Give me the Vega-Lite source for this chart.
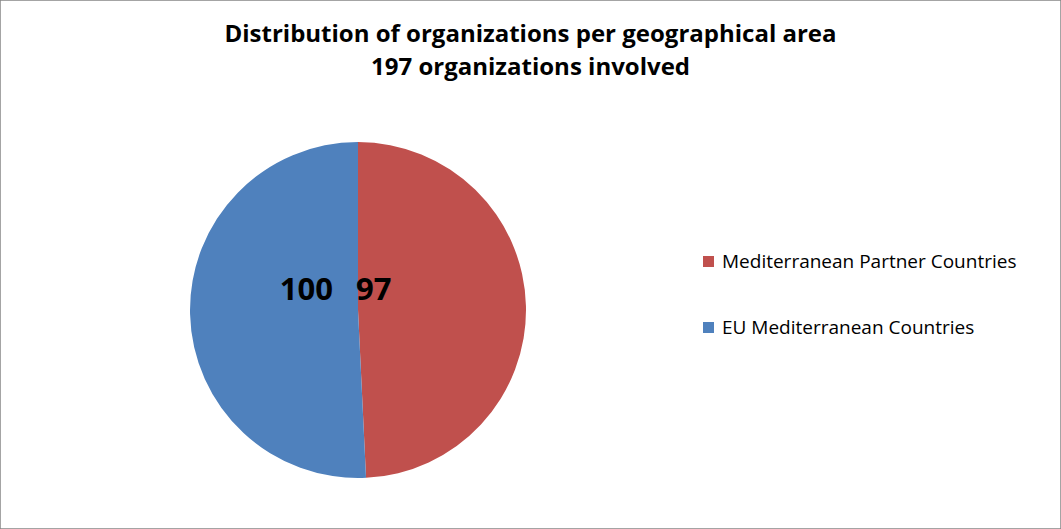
{
  "$schema": "https://vega.github.io/schema/vega-lite/v6.json",
  "width": 1061,
  "height": 529,
  "padding": 0,
  "autosize": "none",
  "background": "white",
  "view": {"stroke": "#868686", "strokeWidth": 1.5},
  "title": {
    "text": ["Distribution of organizations per geographical area", "197 organizations involved"],
    "font": "Open Sans",
    "fontSize": 24,
    "fontWeight": "bold",
    "color": "black",
    "anchor": "middle",
    "frame": "group",
    "lineHeight": 33,
    "offset": -80
  },
  "data": {
    "values": [
      {"area": "Mediterranean Partner Countries", "count": 97, "order": 1},
      {"area": "EU Mediterranean Countries", "count": 100, "order": 2}
    ]
  },
  "layer": [
    {
      "mark": {"type": "arc", "radius": 168, "x": 358, "y": 310},
      "encoding": {
        "theta": {"field": "count", "type": "quantitative", "stack": true},
        "order": {"field": "order", "type": "quantitative"},
        "color": {
          "field": "area",
          "type": "nominal",
          "sort": ["Mediterranean Partner Countries", "EU Mediterranean Countries"],
          "scale": {
            "domain": ["Mediterranean Partner Countries", "EU Mediterranean Countries"],
            "range": ["#C0504D", "#4F81BD"]
          },
          "legend": {
            "title": null,
            "orient": "none",
            "legendX": 699,
            "legendY": 252,
            "symbolType": "square",
            "symbolSize": 121,
            "symbolStrokeWidth": 0,
            "labelFont": "Open Sans",
            "labelFontSize": 19,
            "labelColor": "black",
            "labelOffset": 4,
            "labelLimit": 400,
            "rowPadding": 46
          }
        }
      }
    },
    {
      "transform": [{"filter": "datum.order == 1"}],
      "mark": {"type": "text", "x": 358, "y": 310, "radius": 0, "align": "left", "baseline": "alphabetic", "dx": -2, "dy": -10, "font": "Open Sans", "fontSize": 31, "fontWeight": "bold", "color": "black"},
      "encoding": {
        "theta": {"field": "count", "type": "quantitative", "stack": true},
        "text": {"field": "count", "type": "quantitative"}
      }
    },
    {
      "transform": [{"filter": "datum.order == 2"}],
      "mark": {"type": "text", "x": 358, "y": 310, "radius": 0, "align": "right", "baseline": "alphabetic", "dx": -25, "dy": -10, "font": "Open Sans", "fontSize": 31, "fontWeight": "bold", "color": "black"},
      "encoding": {
        "theta": {"field": "count", "type": "quantitative", "stack": true},
        "text": {"field": "count", "type": "quantitative"}
      }
    }
  ]
}
